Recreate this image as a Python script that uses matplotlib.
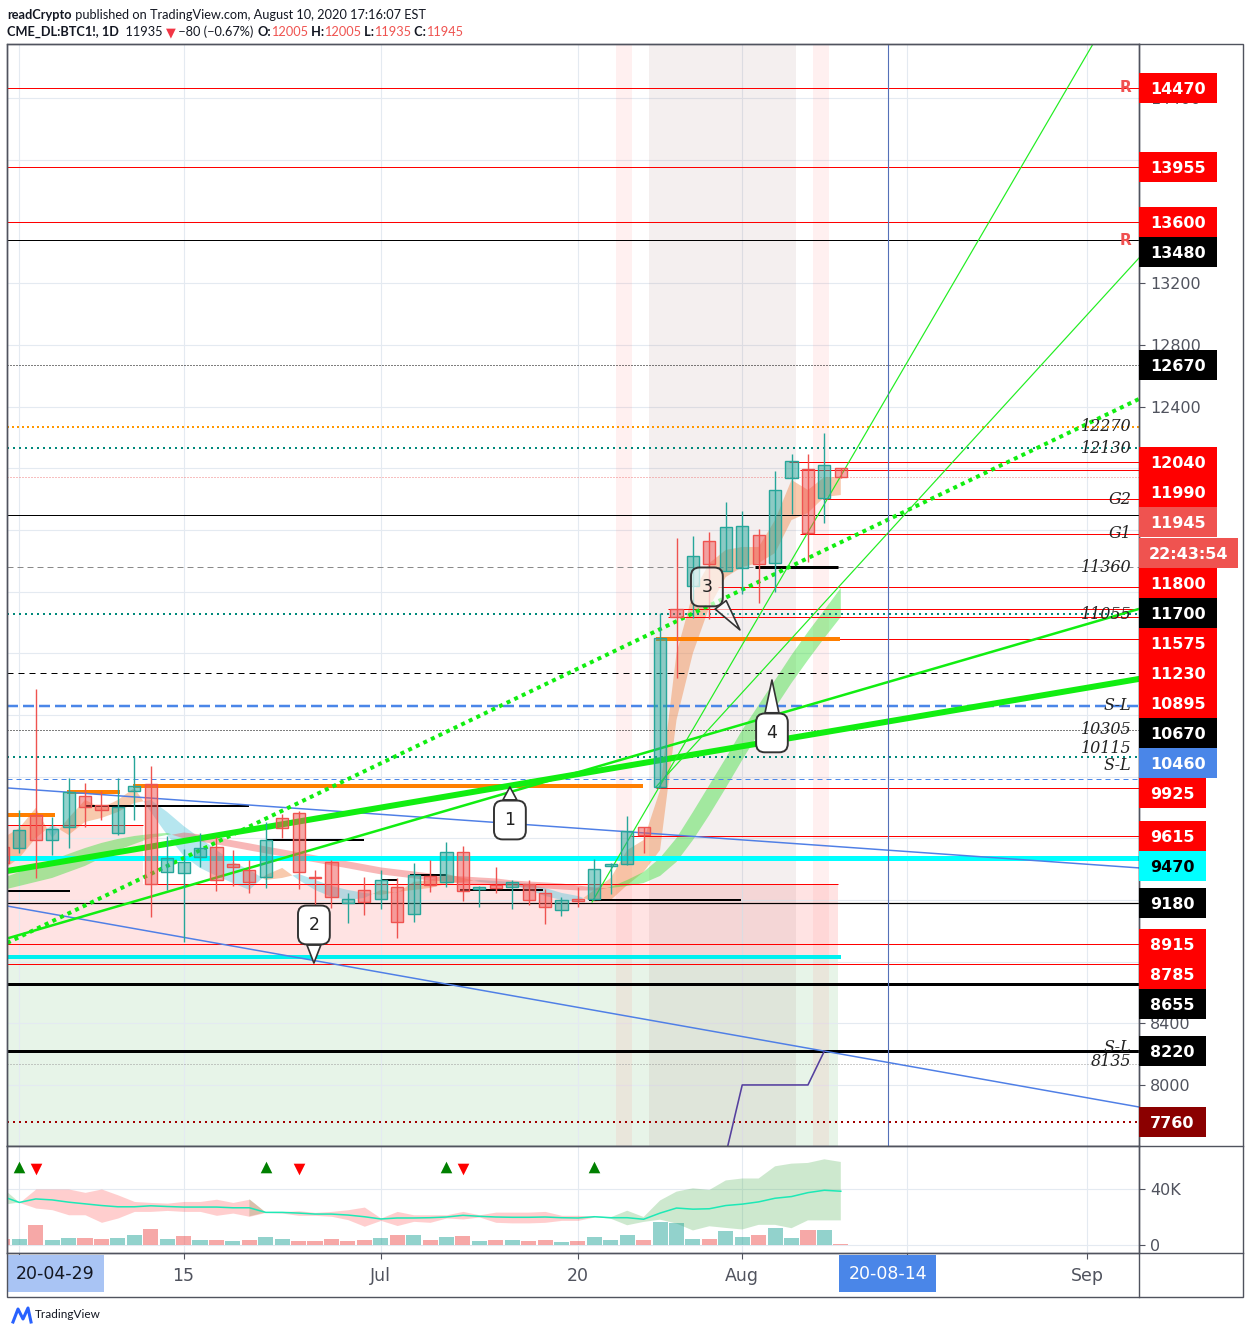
import matplotlib
matplotlib.use('Agg')
import matplotlib.pyplot as plt
import matplotlib.transforms as mtransforms
from matplotlib.patches import Rectangle
from matplotlib.lines import Line2D
from matplotlib.colors import to_rgba

W, H = 1250, 1334

# daily bars, index 1 = 2020-06-01 ... index 51 = 2020-08-11 (index 0 is cut by the left edge)
opens = [9546, 9536, 9751, 9589, 9676, 9875, 9814, 9633, 9909, 9951,
         9384, 9373, 9481, 9543, 9432, 9395, 9351, 9730, 9762, 9348,
         9445, 9179, 9265, 9205, 9282, 9108, 9356, 9315, 9510, 9274,
         9296, 9283, 9302, 9244, 9135, 9205, 9205, 9421, 9432, 9672,
         9931, 11086, 11237, 11527, 11334, 11353, 11566, 11389, 11936, 11994,
         11806, 12005]
highs = [9580, 9784, 10567, 9741, 9991, 9959, 9907, 9991, 10130, 10069,
         9615, 9531, 9634, 9611, 9524, 9460, 9708, 9758, 9777, 9395,
         9460, 9248, 9349, 9395, 9341, 9439, 9460, 9575, 9550, 9290,
         9412, 9330, 9330, 9270, 9222, 9282, 9464, 9440, 9745, 9672,
         11060, 11547, 11561, 11585, 11782, 11724, 11607, 11983, 12094, 12094,
         12232, 12005]
lows = [9400, 9505, 9343, 9492, 9540, 9676, 9719, 9622, 9719, 9092,
        9265, 8930, 9416, 9261, 9293, 9248, 9280, 9600, 9270, 9092,
        9150, 9053, 9103, 9144, 8956, 9056, 9254, 9287, 9196, 9153,
        9244, 9140, 9168, 9043, 9098, 9157, 9200, 9239, 9427, 9507,
        9925, 10639, 11028, 11023, 11334, 11183, 11129, 11196, 11702, 11395,
        11648, 11935]
closes = [9440, 9654, 9589, 9659, 9903, 9805, 9784, 9806, 9938, 9304,
          9471, 9445, 9536, 9330, 9413, 9319, 9589, 9665, 9380, 9340,
          9222, 9205, 9190, 9330, 9060, 9361, 9297, 9514, 9261, 9287,
          9276, 9315, 9200, 9153, 9200, 9195, 9399, 9434, 9648, 9622,
          10898, 11038, 11432, 11378, 11618, 11625, 11378, 11858, 12046, 11579,
          12020, 11945]

# volume (thousands) and its colour (u = up, d = down)
volumes = [4.2, 4.2, 14.1, 3.5, 4.9, 4.9, 4.2, 4.9, 7.1, 11.3,
           4.2, 6.4, 3.5, 3.5, 2.8, 3.5, 5.6, 4.2, 2.8, 2.8,
           4.2, 2.8, 3.5, 4.9, 7.1, 7.1, 3.5, 5.6, 6.4, 2.8,
           3.5, 3.5, 2.8, 3.5, 2.1, 2.8, 5.6, 3.5, 7.1, 3.5,
           16.2, 15.5, 4.2, 4.2, 9.9, 5.6, 7.1, 12.0, 4.9, 10.6,
           10.6, 0.7]
vol_dir = ['d', 'u', 'd', 'u', 'u', 'd', 'd', 'u', 'u', 'd',
           'u', 'd', 'u', 'd', 'u', 'd', 'u', 'u', 'd', 'd',
           'd', 'd', 'd', 'u', 'd', 'u', 'd', 'u', 'd', 'u',
           'd', 'u', 'd', 'd', 'u', 'd', 'u', 'u', 'u', 'd',
           'u', 'u', 'u', 'd', 'u', 'u', 'd', 'u', 'u', 'd',
           'u', 'd']
vol_ma = [34.6, 30.4, 32.9, 32.2, 30.6, 29.4, 28.2, 27.3, 27.3, 28.0,
          27.5, 27.1, 27.1, 27.1, 26.6, 26.6, 23.3, 23.3, 22.8, 22.1,
          22.1, 21.4, 20.2, 18.6, 19.3, 19.3, 19.5, 20.0, 21.2, 20.5,
          20.0, 19.8, 19.8, 20.0, 19.5, 19.3, 20.2, 19.5, 19.5, 18.4,
          22.8, 26.4, 25.6, 25.9, 28.2, 29.2, 30.8, 33.4, 34.6, 37.4,
          39.1, 38.4]
vol_hi = [40.5, 30.4, 40.0, 40.0, 40.0, 37.6, 40.0, 35.8, 31.1, 30.4,
          29.9, 31.1, 31.1, 32.7, 30.4, 32.7, 23.3, 23.8, 24.5, 23.3,
          24.0, 25.2, 27.1, 19.3, 24.0, 21.6, 21.6, 21.6, 24.0, 21.6,
          23.5, 23.5, 23.5, 24.0, 21.2, 21.2, 20.5, 19.8, 24.5, 20.0,
          31.8, 38.1, 40.5, 39.3, 46.1, 47.5, 47.5, 56.2, 58.1, 58.6,
          61.2, 59.3]
vol_lo = [28.7, 30.4, 26.4, 25.2, 21.6, 21.6, 16.2, 19.3, 24.0, 24.0,
          24.7, 24.0, 24.0, 21.2, 22.8, 20.5, 23.3, 22.8, 21.2, 21.2,
          20.5, 18.1, 13.4, 17.6, 13.9, 16.9, 16.2, 19.3, 18.6, 20.0,
          16.2, 15.8, 15.8, 16.2, 17.6, 17.6, 20.0, 18.8, 14.1, 16.5,
          18.1, 15.3, 10.4, 13.4, 12.2, 11.1, 14.4, 14.4, 12.0, 17.6,
          17.6, 17.6]
vol_green_from = [0, 15, 36, 37, 38, 39, 40, 41, 42, 43, 44, 45, 46, 47, 48, 49, 50]
buy_marks = [1, 16, 27, 36]
sell_marks = [2, 18, 28]

# fast / slow ribbon around price
rib_fast = [9602, 9667, 9797, 9602, 9732, 9849, 9797, 9849, 9927, 9771,
            9622, 9486, 9408, 9356, 9310, 9265, 9362, 9408, 9330, 9265,
            9220, 9200, 9213, 9265, 9246, 9317, 9330, 9369, 9343, 9317,
            9304, 9297, 9265, 9226, 9200, 9187, 9265, 9343, 9524, 9589,
            9914, 10802, 11192, 11386, 11471, 11490, 11490, 11665, 11925, 11860,
            11944, 11944]
rib_slow = [9395, 9473, 9602, 9687, 9622, 9706, 9732, 9771, 9829, 9849,
            9771, 9680, 9602, 9524, 9447, 9395, 9330, 9343, 9369, 9330,
            9291, 9265, 9246, 9233, 9252, 9265, 9278, 9304, 9317, 9330,
            9323, 9317, 9304, 9278, 9246, 9226, 9187, 9200, 9297, 9382,
            9524, 10368, 10802, 11101, 11295, 11360, 11386, 11451, 11665, 11711,
            11814, 11827]
# slow band (green when rising, pink when falling)
band_a = [9343, 9382, 9421, 9460, 9499, 9537, 9570, 9596, 9615, 9628,
          9635, 9602, 9583, 9563, 9544, 9524, 9505, 9486, 9466, 9447,
          9427, 9408, 9388, 9369, 9356, 9343, 9330, 9323, 9310, 9304,
          9297, 9291, 9284, 9278, 9271, 9265, 9265, 9284, 9330, 9382,
          9473, 9602, 9771, 9946, 10121, 10303, 10465, 10627, 10789, 10939,
          11081, 11224]
band_b = [9265, 9291, 9317, 9343, 9382, 9421, 9473, 9524, 9563, 9602,
          9622, 9641, 9628, 9609, 9589, 9570, 9550, 9531, 9512, 9492,
          9473, 9453, 9434, 9414, 9401, 9388, 9375, 9362, 9356, 9349,
          9343, 9330, 9323, 9317, 9310, 9297, 9284, 9278, 9291, 9310,
          9356, 9447, 9589, 9752, 9927, 10108, 10283, 10446, 10608, 10757,
          10900, 11036]
stop_bars = [44, 45, 46, 47, 48, 49, 50]
stop_vals = [7550, 8000, 8000, 8000, 8000, 8000, 8220]

# full width horizontal levels: price, colour, width(px), style
levels = [
    (14470, '#ff0000', 1, '-'), (13955, '#ff0000', 1, '-'), (13600, '#ff0000', 1, '-'),
    (13480, '#000000', 1, '-'), (12670, '#000000', 1, (0, (1, 2))),
    (12270, '#ff9800', 2, (0, (1, 1.5))), (12130, '#00897b', 2, (0, (1, 2))),
    (11945, '#f08080', 1, (0, (1, 2))), (11700, '#000000', 1, '-'),
    (11360, '#8a8a8a', 1, (0, (6, 4))), (11055, '#00897b', 2, (0, (1, 2))),
    (10670, '#000000', 1, (0, (6, 5))), (10460, '#4a86e8', 2.5, (0, (4.4, 2))),
    (10305, '#000000', 1, (0, (1, 2))), (10128, '#00897b', 2, (0, (1, 2))),
    (9985, '#4a86e8', 1, (0, (5, 4))), (9470, '#00ffff', 5, '-'),
    (9180, '#000000', 1.2, '-'), (8915, '#ff0000', 1, '-'), (8785, '#ff0000', 1, '-'),
    (8655, '#000000', 3, '-'), (8220, '#000000', 3, '-'),
    (8135, '#9a9a9a', 1, (0, (1, 2))), (7760, '#a00000', 2, (0, (1, 2))),
]
# partial levels: price, from bar, to bar (None = right edge), colour, width(px)
segments = [
    (12040, 47.85, None, '#ff0000', 1), (11990, 48.5, None, '#ff0000', 1),
    (11800, 49.9, None, '#ff0000', 1), (11575, 48.5, None, '#ff0000', 1),
    (11360, 45.8, 50.8, '#000000', 3), (11230, 43.5, None, '#ff0000', 1),
    (11086, 40.5, None, '#ff0000', 1), (11038, 40.5, None, '#ff0000', 1),
    (10895, 39.75, None, '#ff0000', 1), (10895, 39.75, 50.95, '#ff7f00', 4),
    (9925, 39.75, None, '#ff0000', 1), (9615, 38.2, None, '#ff0000', 1),
    (9940, 7.9, 38.96, '#ff7f00', 4), (9901, 3.9, 7.1, '#ff7f00', 4),
    (9751, 0.25, 3.2, '#ff7f00', 4),
    (9810, 5.0, 15.0, '#000000', 2), (9589, 16.0, 22.0, '#000000', 2),
    (9258, 0.25, 4.1, '#000000', 2), (9330, 23.0, 24.0, '#000000', 2),
    (9362, 24.8, 27.0, '#000000', 2), (9265, 27.8, 32.9, '#000000', 2),
    (9200, 35.7, 44.9, '#000000', 2),
    (9304, 9.0, 50.8, '#ff0000', 1), (9687, 0.25, 8.5, '#ff0000', 1),
    (8830, 0.25, 51.0, '#00f0f0', 4),
]
# trend lines: (bar, price) -> (bar, price), colour, width(px), style
trends = [
    ((0.25, 9927), (69.15, 9408), '#4f7fe6', 1.5, '-'),
    ((0.25, 9161), (69.15, 7857), '#4f7fe6', 1.5, '-'),
    ((0.25, 9388), (69.15, 10634), '#11ee11', 6, '-'),
    ((0.25, 8950), (69.15, 11088), '#11ee11', 2.5, '-'),
    ((0.25, 8921), (69.15, 12450), '#11ee11', 4, (0, (1, 1.1))),
    ((35.86, 9187), (66.35, 14753), '#22ee22', 1.2, '-'),
    ((39.75, 9933), (69.15, 13365), '#22ee22', 1.2, '-'),
]
# shaded zones: bar from, bar to, low, high, colour, alpha
zones = [
    (0.25, 8.5, 9304, 9687, '#ff0000', 0.11),
    (0.25, 50.8, 8830, 9304, '#ff0000', 0.11),
    (0.25, 50.8, 7000, 8830, '#4caf50', 0.13),
]
sessions = [(37.3, 38.3, '#ff6060', 0.09), (39.3, 48.3, '#a07070', 0.11), (49.3, 50.3, '#ff6060', 0.09)]
notes = [('12270', 12270), ('12130', 12130), ('G2', 11800), ('G1', 11575), ('11360', 11360),
         ('11055', 11055), ('S-L', 10460), ('10305', 10305), ('10115', 10180), ('S-L', 10075),
         ('S-L', 8240), ('8135', 8150)]
resist = [14470, 13480]
callouts = [('1', (30.86, 9719), (30.86, 9933), 'white'),
            ('2', (18.93, 9038), (18.93, 8791), 'white'),
            ('3', (42.85, 11231), (44.86, 10952), (1, 1, 1, 0.65)),
            ('4', (46.81, 10284), (46.81, 10627), 'white')]
price_tags = [
    (14470, '#ff0000', 'white'), (13955, '#ff0000', 'white'), (13600, '#ff0000', 'white'),
    (13480, '#000000', 'white'), (12670, '#000000', 'white'), (12040, '#ff0000', 'white'),
    (11990, '#ff0000', 'white'), (11945, '#ef5350', 'white'), (11800, '#ff0000', 'white'),
    (11700, '#000000', 'white'), (11575, '#ff0000', 'white'), (11230, '#ff0000', 'white'),
    (10895, '#ff0000', 'white'), (10670, '#000000', 'white'), (10460, '#4a86e8', 'white'),
    (9925, '#ff0000', 'white'), (9615, '#ff0000', 'white'), (9470, '#00ffff', 'black'),
    (9180, '#000000', 'white'), (8915, '#ff0000', 'white'), (8785, '#ff0000', 'white'),
    (8655, '#000000', 'white'), (8220, '#000000', 'white'), (7760, '#8b0000', 'white'),
]
last_price = 11945
countdown = '22:43:54'
price_ticks = list(range(8000, 14401, 400))
shown_ticks = [14400, 13200, 12800, 12400, 8400, 8000]  # the rest sit under the price tags
grid_bars = [1, 11, 23, 35, 45, 55, 66]
time_ticks = [11, 23, 35, 45, 66]
time_labels = ['15', 'Jul', '20', 'Aug', 'Sep']
cursor_bar = 53.85

TEAL = '#26a69a'
RED = '#ef5350'
AXC = '#50535e'
PT = 0.72  # points per pixel

fig = plt.figure(figsize=(W / 100, H / 100), dpi=100)
fig.patch.set_facecolor('white')


def fbox(x0, y0, x1, y1):
    return [x0 / W, 1 - y1 / H, (x1 - x0) / W, (y1 - y0) / H]


ax = fig.add_axes(fbox(7, 44, 1139, 1146))
axv = fig.add_axes(fbox(7, 1146, 1139, 1253), sharex=ax)
bars = list(range(len(opens)))

ax.set_xlim(0.25, 69.15)
ax.set_ylim(7604, 14753)
axv.set_ylim(-5.7, 70.7)

for a in (ax, axv):
    for s in a.spines.values():
        s.set_color(AXC)
        s.set_linewidth(1)
    a.yaxis.tick_right()
    a.set_xticks(grid_bars)
    a.grid(True, color='#e4eaf1', lw=0.8)
    a.set_axisbelow(True)

ax.set_yticks(price_ticks)
ax.set_yticklabels([str(v) if v in shown_ticks else '' for v in price_ticks])
ax.tick_params(axis='y', length=4, width=0.8, color=AXC, labelcolor=AXC, labelsize=11.5, pad=4)
ax.tick_params(axis='x', length=0, labelbottom=False)
axv.set_yticks([0, 40])
axv.set_yticklabels(['0', '40K'])
axv.tick_params(axis='y', length=4, width=0.8, color=AXC, labelcolor=AXC, labelsize=11.5, pad=4)
axv.set_xticks(grid_bars)
axv.set_xticklabels([time_labels[time_ticks.index(b)] if b in time_ticks else '' for b in grid_bars])
axv.tick_params(axis='x', length=4, width=0.8, color=AXC, labelcolor=AXC, labelsize=12.5, pad=6)

# zones and session highlights
for x0, x1, lo, hi, col, al in zones:
    ax.fill_between([x0, x1], lo, hi, color=col, alpha=al, lw=0, zorder=0.5)
for x0, x1, col, al in sessions:
    ax.axvspan(x0, x1, color=col, alpha=al, lw=0, zorder=0.6)

# ribbons
ax.fill_between(bars, rib_fast, rib_slow, where=[f >= s for f, s in zip(rib_fast, rib_slow)],
                interpolate=True, color='#f08a4b', alpha=0.45, lw=0, zorder=1)
ax.fill_between(bars, rib_fast, rib_slow, where=[f < s for f, s in zip(rib_fast, rib_slow)],
                interpolate=True, color='#5fc8dc', alpha=0.45, lw=0, zorder=1)
ax.fill_between(bars, band_a, band_b, where=[p >= q for p, q in zip(band_a, band_b)],
                interpolate=True, color='#3ee03e', alpha=0.45, lw=0, zorder=1.1)
ax.fill_between(bars, band_a, band_b, where=[p < q for p, q in zip(band_a, band_b)],
                interpolate=True, color='#f06060', alpha=0.45, lw=0, zorder=1.1)

# levels
for price, col, w, ls in levels:
    ax.axhline(price, color=col, lw=w * PT, ls=ls, zorder=2)
for price, x0, x1, col, w in segments:
    ax.plot([x0, 69.15 if x1 is None else x1], [price, price], color=col, lw=w * PT,
            solid_capstyle='butt', zorder=2.2 if w > 2 else 2)
for (x0, y0), (x1, y1), col, w, ls in trends:
    ax.plot([x0, x1], [y0, y1], color=col, lw=w * PT, ls=ls, zorder=2.5)
ax.plot(stop_bars, stop_vals, color='#55409e', lw=1.6 * PT, zorder=2.5)
ax.axvline(cursor_bar, color='#5570b8', lw=0.8, zorder=2.6)

# candles
for i in bars:
    o, h, l, c = opens[i], highs[i], lows[i], closes[i]
    col = TEAL if c >= o else RED
    ax.vlines(i, l, h, color=col, lw=1.0, zorder=4)
    ax.add_patch(Rectangle((i - 0.37, min(o, c)), 0.74, max(abs(c - o), 10),
                           fc=to_rgba(col, 0.5), ec=col, lw=1.0, zorder=5))

# notes at the right edge
tr = mtransforms.blended_transform_factory(ax.transAxes, ax.transData)
for txt, price in notes:
    ax.text(0.9935, price, txt, transform=tr, ha='right', va='center', fontsize=11.5,
            family='DejaVu Serif', style='italic', color='#222222', zorder=6)
for price in resist:
    ax.text(0.9877, price, 'R', transform=tr, ha='center', va='center', fontsize=11,
            fontweight='bold', color='#f05050', zorder=6)

for txt, xy_c, xy_t, fc in callouts:
    ax.annotate(txt, xy=xy_t, xytext=xy_c, ha='center', va='center', fontsize=12.5, color='#222222',
                bbox=dict(boxstyle='round,pad=0.6,rounding_size=0.5', fc=fc, ec='#333333', lw=1.4),
                arrowprops=dict(arrowstyle='wedge,tail_width=0.8,shrink_factor=0.5', fc=fc, ec='#333333',
                                lw=1.2, shrinkA=0, shrinkB=0), zorder=7)

# volume pane
axv.bar(bars, volumes, width=0.92, color=[to_rgba(TEAL if d == 'u' else RED, 0.5) for d in vol_dir],
        lw=0, zorder=2)
gmask = [False] * len(bars)
pmask = [False] * len(bars)
for i in range(len(bars) - 1):
    m = gmask if i in vol_green_from else pmask
    m[i] = True
    m[i + 1] = True
axv.fill_between(bars, vol_hi, vol_lo, where=gmask, color='#4caf50', alpha=0.28, lw=0, zorder=1)
axv.fill_between(bars, vol_hi, vol_lo, where=pmask, color='#ff5252', alpha=0.28, lw=0, zorder=1)
axv.plot(bars, vol_ma, color='#1de9b6', lw=1.1, zorder=3)
axv.scatter(buy_marks, [55.7] * len(buy_marks), marker='^', s=70, color='#008000', lw=0, zorder=4)
axv.scatter(sell_marks, [54.0] * len(sell_marks), marker='v', s=70, color='#ff0000', lw=0, zorder=4)

# price tags on the right scale
prev = None
for price, bg, fg in sorted(price_tags, reverse=True):
    y = ax.transData.transform((0, price))[1]
    if prev is not None and y > prev - 30:
        y = prev - 30
    wpx = 78 if price >= 10000 else 67
    fig.add_artist(Rectangle((1139 / W, (y - 15) / H), wpx / W, 30 / H, transform=fig.transFigure,
                             fc=bg, ec='none', zorder=5))
    fig.text((1139 + wpx / 2) / W, y / H, str(price), ha='center', va='center_baseline',
             fontsize=11.5, fontweight='bold', color=fg, zorder=6)
    prev = y
    if price == last_price:
        y = prev - 31
        fig.add_artist(Rectangle((1139 / W, (y - 15) / H), 99 / W, 30 / H, transform=fig.transFigure,
                                 fc='#ef5350', ec='none', zorder=5))
        fig.text((1139 + 49.5) / W, y / H, countdown, ha='center', va='center_baseline',
                 fontsize=11.5, fontweight='bold', color='white', zorder=6)
        prev = y

# date tags on the time scale
for txt, xc, bg, fg in [('20-04-29', 55, '#a9c4f4', '#131722'),
                        ('20-08-14', ax.transData.transform((cursor_bar, 0))[0], '#4a86e8', 'white')]:
    fig.add_artist(Rectangle(((xc - 48.5) / W, 1 - 1292 / H), 97 / W, 37 / H, transform=fig.transFigure,
                             fc=bg, ec='none', zorder=5))
    fig.text(xc / W, 1 - 1274 / H, txt, ha='center', va='center', fontsize=12.5, color=fg, zorder=6)

# frame around the whole chart
fig.add_artist(Rectangle((7 / W, 1 - 1297 / H), 1236 / W, 1253 / H, transform=fig.transFigure,
                         fill=False, ec=AXC, lw=1, zorder=7))
for y in (1146, 1253):
    fig.add_artist(Line2D([7 / W, 1243 / W], [1 - y / H, 1 - y / H], color=AXC, lw=1, zorder=7))
fig.add_artist(Line2D([1139 / W, 1139 / W], [1 - 1297 / H, 1 - 44 / H], color=AXC, lw=1, zorder=4))

# header
hfont = ['Lato', 'DejaVu Sans']


def chain(parts, y):
    t = fig.text(7 / W, 1 - y / H, parts[0][0], color=parts[0][1], fontweight=parts[0][2],
                 fontsize=9.2, family=hfont, va='bottom', ha='left')
    for s, c, w in parts[1:]:
        t = ax.annotate(s, xy=(1, 0), xycoords=t, va='bottom', ha='left', color=c,
                        fontweight=w, fontsize=9.2, family=hfont)


DK = '#131722'
chain([('readCrypto', DK, 'bold'),
       (' published on TradingView.com, August 10, 2020 17:16:07 EST', DK, 'normal')], 21)
chain([('CME_DL:BTC1!, 1D', DK, 'bold'), ('  11935 ', DK, 'normal'), ('▼', '#f23645', 'normal'),
       (' \u221280 (\u22120.67%) ', DK, 'normal'), ('O:', DK, 'bold'), ('12005', RED, 'normal'),
       (' H:', DK, 'bold'), ('12005', RED, 'normal'), (' L:', DK, 'bold'), ('11935', RED, 'normal'),
       (' C:', DK, 'bold'), ('11945', RED, 'normal')], 38)

# TradingView mark
fig.add_artist(Line2D([13 / W, 18 / W, 23 / W, 28 / W, 31 / W],
                      [1 - 1322 / H, 1 - 1309 / H, 1 - 1319 / H, 1 - 1308 / H, 1 - 1322 / H],
                      color='#2962ff', lw=2.2))
fig.text(35 / W, 1 - 1315 / H, 'TradingView', fontsize=8.5, color=DK, va='center', family=hfont)

fig.savefig('out.png', dpi=100, facecolor='white')
